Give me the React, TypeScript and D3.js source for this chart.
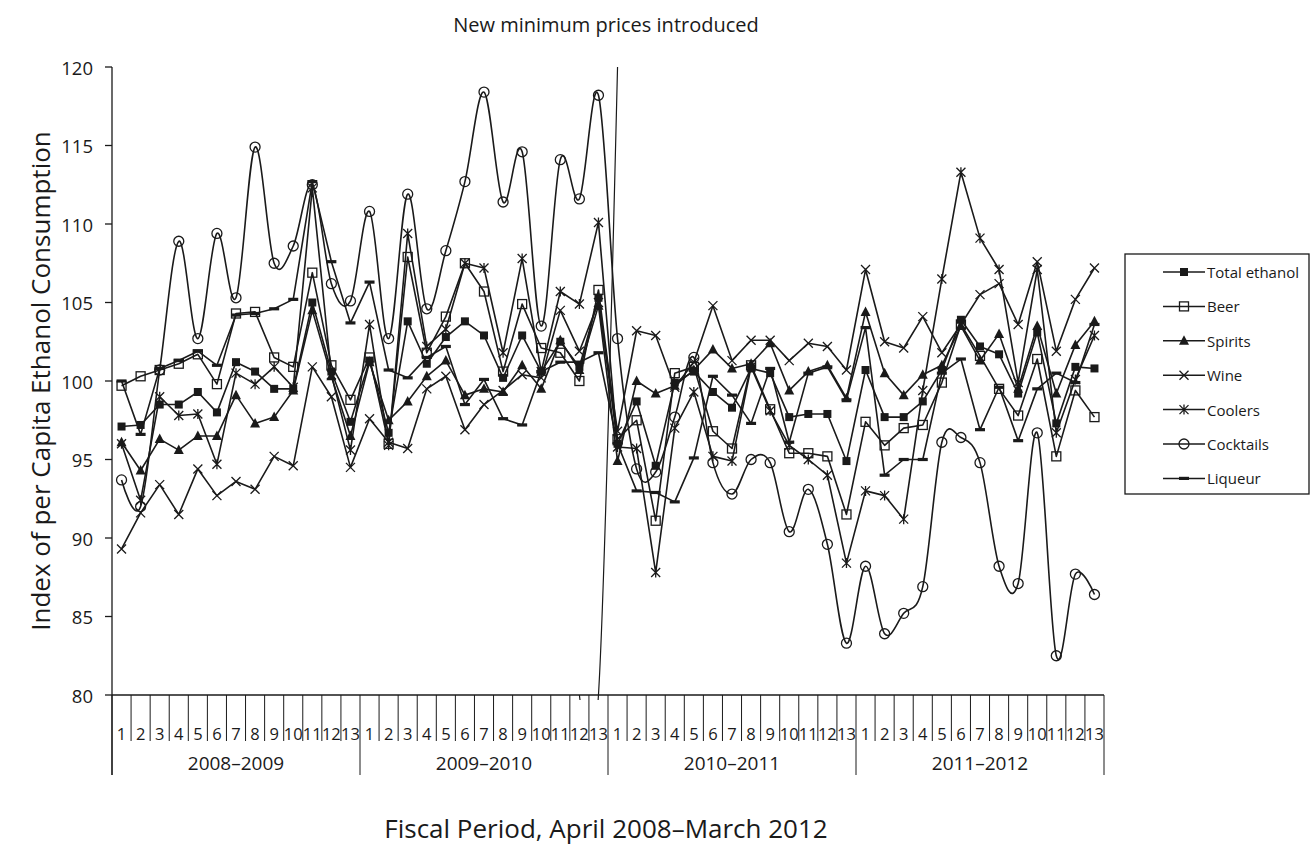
import * as d3 from 'd3';

const fiscalYears = ['2008–2009', '2009–2010', '2010–2011', '2011–2012'];
const periodLabels = ['1', '2', '3', '4', '5', '6', '7', '8', '9', '10', '11', '12', '13'];
const categories = fiscalYears.flatMap((fy) => periodLabels.map((p) => `${fy} P${p}`));
const yTicks = [80, 85, 90, 95, 100, 105, 110, 115, 120];

const totalEthanol = [
  97.1, 97.2, 98.5, 98.5, 99.3, 98.0, 101.2, 100.6, 99.5, 99.5, 105.0, 100.6, 97.4,
  101.3, 96.7, 103.8, 101.1, 102.8, 103.8, 102.9, 100.2, 102.9, 100.6, 102.5, 100.9, 105.3,
  96.0, 98.7, 94.6, 99.9, 100.6, 99.3, 98.3, 100.8, 100.5, 97.7, 97.9, 97.9, 94.9,
  100.7, 97.7, 97.7, 98.7, 100.7, 103.9, 102.2, 101.7, 99.2, 103.1, 97.3, 100.9, 100.8,
];
const beer = [
  99.7, 100.3, 100.7, 101.1, 101.7, 99.8, 104.3, 104.4, 101.5, 100.9, 106.9, 101.0, 98.8,
  101.5, 96.0, 107.9, 101.8, 104.1, 107.5, 105.7, 100.6, 104.9, 102.1, 101.8, 100.0, 105.8,
  96.3, 97.5, 91.1, 100.5, 100.9, 96.8, 95.7, 101.0, 98.2, 95.4, 95.4, 95.2, 91.5,
  97.4, 95.9, 97.0, 97.2, 99.9, 103.6, 101.6, 99.5, 97.8, 101.4, 95.2, 99.4, 97.7,
];
const spirits = [
  96.1, 94.3, 96.3, 95.6, 96.5, 96.5, 99.1, 97.3, 97.7, 99.4, 104.5, 100.3, 96.5,
  101.2, 97.5, 98.7, 100.3, 101.3, 99.1, 99.5, 99.3, 101.0, 99.5, 102.6, 100.7, 104.8,
  94.9, 100.0, 99.2, 99.7, 100.7, 102.0, 100.8, 101.1, 102.4, 99.4, 100.6, 101.0, 98.9,
  104.4, 100.5, 99.1, 100.4, 101.0, 103.5, 101.3, 103.0, 99.5, 103.5, 99.2, 102.3, 103.8,
];
const wine = [
  89.3, 91.6, 93.4, 91.5, 94.4, 92.7, 93.6, 93.1, 95.2, 94.6, 100.9, 99.0, 94.5,
  97.6, 96.1, 95.7, 99.5, 100.3, 96.9, 98.5, 99.4, 100.4, 100.2, 104.5, 101.9, 105.0,
  96.8, 103.2, 102.9, 99.6, 101.2, 104.8, 101.3, 102.6, 102.6, 101.3, 102.4, 102.2, 100.7,
  107.1, 102.5, 102.1, 104.1, 101.8, 103.6, 105.5, 106.2, 103.6, 107.6, 101.9, 105.2, 107.2,
];
const coolers = [
  96.0, 92.4, 99.0, 97.8, 97.9, 94.7, 100.5, 99.8, 100.9, 99.6, 112.3, 100.4, 95.6,
  103.6, 95.9, 109.4, 102.2, 103.3, 107.5, 107.2, 101.8, 107.8, 100.6, 105.7, 104.9, 110.1,
  95.8, 95.7, 87.8, 97.0, 99.3, 95.2, 94.9, 100.9, 98.1, 95.9, 95.0, 94.0, 88.4,
  93.0, 92.7, 91.2, 99.4, 106.5, 113.3, 109.1, 107.1, 99.9, 107.1, 96.7, 100.1, 102.9,
];
const cocktails = [
  93.7, 92.0, 100.7, 108.9, 102.7, 109.4, 105.3, 114.9, 107.5, 108.6, 112.5, 106.2, 105.1,
  110.8, 102.7, 111.9, 104.6, 108.3, 112.7, 118.4, 111.4, 114.6, 103.5, 114.1, 111.6, 118.2,
  102.7, 94.4, 94.2, 97.7, 101.5, 94.8, 92.8, 95.0, 94.8, 90.4, 93.1, 89.6, 83.3,
  88.2, 83.9, 85.2, 86.9, 96.1, 96.4, 94.8, 88.2, 87.1, 96.7, 82.5, 87.7, 86.4,
];
const liqueur = [
  100.0, 96.6, 100.8, 101.3, 101.9, 101.0, 104.2, 104.3, 104.6, 105.2, 112.7, 107.6, 103.7,
  106.3, 100.7, 100.2, 101.5, 102.2, 98.5, 100.1, 97.6, 97.2, 100.6, 101.2, 101.2, 101.8,
  96.0, 93.0, 92.9, 92.3, 95.1, 100.3, 99.1, 97.3, 100.8, 96.1, 100.5, 100.9, 98.8,
  103.4, 94.0, 95.0, 95.0, 100.5, 101.4, 96.9, 99.6, 96.2, 99.5, 100.5, 99.9, 103.6,
];
// marker line for the policy change, drawn as a smoothed dummy series
const policyLine = [
  { category: '2009–2010 P12', value: 80 },
  { category: '2009–2010 P13', value: 80 },
  { category: '2010–2011 P1', value: 120 },
];

type MarkerType = 'fsquare' | 'osquare' | 'triangle' | 'x' | 'star' | 'circle' | 'dash';
const series: { name: string; values: number[]; marker: MarkerType; smooth: boolean }[] = [
  { name: 'Total ethanol', values: totalEthanol, marker: 'fsquare', smooth: false },
  { name: 'Beer', values: beer, marker: 'osquare', smooth: false },
  { name: 'Spirits', values: spirits, marker: 'triangle', smooth: false },
  { name: 'Wine', values: wine, marker: 'x', smooth: false },
  { name: 'Coolers', values: coolers, marker: 'star', smooth: false },
  { name: 'Cocktails', values: cocktails, marker: 'circle', smooth: true },
  { name: 'Liqueur', values: liqueur, marker: 'dash', smooth: false },
];

const W = 1312;
const H = 852;
const FONT = '"Open Sans", "Noto Sans", sans-serif';
const INK = '#1a1a1a';

const x = d3.scaleBand<string>().domain(categories).range([112, 1104]).padding(0);
const cx = (c: string) => (x(c) ?? 0) + x.bandwidth() / 2;
const y = d3.scaleLinear().domain([80, 120]).range([695, 67]);
const axisY = y(80);

function Marker({ type, px, py }: { type: MarkerType; px: number; py: number }) {
  switch (type) {
    case 'fsquare':
      return <rect x={px - 4} y={py - 4} width={8} height={8} fill={INK} />;
    case 'osquare':
      return <rect x={px - 4.5} y={py - 4.5} width={9} height={9} fill="none" stroke={INK} strokeWidth={1.3} />;
    case 'triangle':
      return <path d={`M${px},${py - 5.5}L${px + 5},${py + 4}L${px - 5},${py + 4}Z`} fill={INK} />;
    case 'x':
      return <path d={`M${px - 4.5},${py - 4.5}L${px + 4.5},${py + 4.5}M${px - 4.5},${py + 4.5}L${px + 4.5},${py - 4.5}`} stroke={INK} strokeWidth={1.3} />;
    case 'star':
      return (
        <path
          d={`M${px - 4.5},${py - 4.5}L${px + 4.5},${py + 4.5}M${px - 4.5},${py + 4.5}L${px + 4.5},${py - 4.5}M${px},${py - 5}L${px},${py + 5}`}
          stroke={INK}
          strokeWidth={1.3}
        />
      );
    case 'circle':
      return <circle cx={px} cy={py} r={5} fill="none" stroke={INK} strokeWidth={1.3} />;
    case 'dash':
      return <rect x={px - 5} y={py - 1.6} width={10} height={3.2} fill={INK} />;
  }
}

export default function App() {
  const linePath = (values: number[], smooth: boolean) =>
    d3
      .line<number>()
      .x((_, i) => cx(categories[i]))
      .y((d) => y(d))
      .curve(smooth ? d3.curveCardinal.tension(0) : d3.curveLinear)(values) ?? '';

  const policyPath =
    d3
      .line<{ category: string; value: number }>()
      .x((d) => cx(d.category))
      .y((d) => y(d.value))
      .curve(d3.curveCardinal.tension(0))(policyLine) ?? '';

  const boundaries = d3.range(categories.length + 1).map((i) =>
    i < categories.length ? (x(categories[i]) ?? 0) : x.range()[1]
  );
  const yearEdges = d3.range(fiscalYears.length + 1).map((k) => boundaries[k * periodLabels.length]);

  const legendTop = 272;
  const legendStep = 34.4;

  return (
    <svg
      width={W}
      height={H}
      style={{ position: 'absolute', left: 0, top: 0, background: '#fff' }}
      fontFamily={FONT}
    >
      <defs>
        <clipPath id="plotClip">
          <rect x={100} y={62} width={1010} height={638} />
        </clipPath>
      </defs>

      <text x={606} y={24} textAnchor="middle" dominantBaseline="central" fontSize={20} fill={INK}>
        New minimum prices introduced
      </text>

      {/* y axis */}
      <line x1={112} x2={112} y1={y(120)} y2={775} stroke={INK} strokeWidth={1.3} />
      {yTicks.map((t) => (
        <g key={t}>
          <line x1={105} x2={112} y1={y(t)} y2={y(t)} stroke={INK} strokeWidth={1.3} />
          <text x={93} y={y(t)} textAnchor="end" dominantBaseline="central" fontSize={18.5} fill={INK}>
            {t}
          </text>
        </g>
      ))}
      <text
        transform={`translate(40,${(y(80) + y(120)) / 2}) rotate(-90)`}
        textAnchor="middle"
        dominantBaseline="central"
        fontSize={26}
        fill={INK}
      >
        Index of per Capita Ethanol Consumption
      </text>

      {/* x axis */}
      <line x1={112} x2={1104} y1={axisY} y2={axisY} stroke={INK} strokeWidth={1.3} />
      {boundaries.map((b, i) => (
        <line key={i} x1={b} x2={b} y1={axisY} y2={i % 13 === 0 ? 775 : 741} stroke={INK} strokeWidth={1} />
      ))}
      {categories.map((c, i) => (
        <text key={c} x={cx(c)} y={733} textAnchor="middle" dominantBaseline="central" fontSize={16.5} fill={INK}>
          {periodLabels[i % 13]}
        </text>
      ))}
      {fiscalYears.map((fy, k) => (
        <text
          key={fy}
          x={(yearEdges[k] + yearEdges[k + 1]) / 2}
          y={763}
          textAnchor="middle"
          dominantBaseline="central"
          fontSize={19}
          fill={INK}
        >
          {fy}
        </text>
      ))}
      <text x={606} y={828} textAnchor="middle" dominantBaseline="central" fontSize={26} fill={INK}>
        Fiscal Period, April 2008–March 2012
      </text>

      {/* series */}
      <g clipPath="url(#plotClip)">
        <path d={policyPath} fill="none" stroke={INK} strokeWidth={1.2} />
      </g>
      {series.map((s) => (
        <g key={s.name}>
          <path d={linePath(s.values, s.smooth)} fill="none" stroke={INK} strokeWidth={1.6} strokeLinejoin="round" />
          {s.values.map((v, i) => (
            <Marker key={i} type={s.marker} px={cx(categories[i])} py={y(v)} />
          ))}
        </g>
      ))}

      {/* legend */}
      <rect x={1125} y={254} width={184} height={240} fill="#fff" stroke={INK} strokeWidth={1.3} />
      {series.map((s, i) => {
        const ly = legendTop + i * legendStep;
        return (
          <g key={s.name}>
            <line x1={1163} x2={1205} y1={ly} y2={ly} stroke={INK} strokeWidth={1.5} />
            <Marker type={s.marker} px={1184} py={ly} />
            <text x={1207} y={ly} dominantBaseline="central" fontSize={15} fill={INK}>
              {s.name}
            </text>
          </g>
        );
      })}
    </svg>
  );
}
